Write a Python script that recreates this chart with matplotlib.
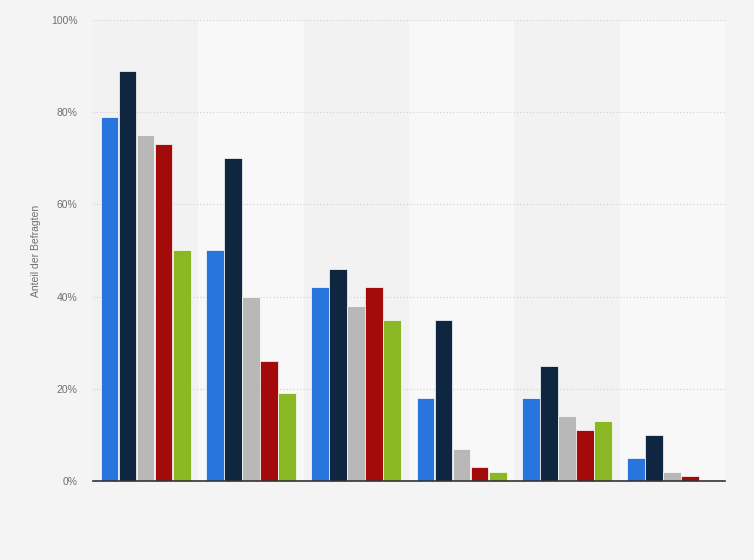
import matplotlib.pyplot as plt
import numpy as np

# Anteil der Befragten je Gruppe (6 Gruppen, 5 Reihen)
series_1 = [79, 50, 42, 18, 18, 5]
series_2 = [89, 70, 46, 35, 25, 10]
series_3 = [75, 40, 38, 7, 14, 2]
series_4 = [73, 26, 42, 3, 11, 1]
series_5 = [50, 19, 35, 2, 13, 0]
colors = ['#2876dd', '#0f2640', '#b8b8b8', '#a30a0a', '#8ab825']
y_ticks = [0, 20, 40, 60, 80, 100]

plt.rcParams['font.family'] = ['Liberation Sans', 'DejaVu Sans']

all_series = [series_1, series_2, series_3, series_4, series_5]
n_groups = len(series_1)
x = np.arange(n_groups)

fig = plt.figure(figsize=(7.54, 5.6), dpi=100, facecolor='#f4f4f4')
ax = fig.add_axes([0.1233, 0.1411, 0.8382, 0.8232])
ax.set_facecolor('#f2f2f2')

# abwechselnde Hintergrundstreifen
for i in range(n_groups):
    if i % 2 == 1:
        ax.axvspan(i - 0.5, i + 0.5, color='#f8f8f8', zorder=0, lw=0)

slot = 0.171
for k, vals in enumerate(all_series):
    offs = (k - 2) * slot
    ax.bar(x + offs, vals, width=slot - 0.003, color=colors[k],
           edgecolor='white', linewidth=0.5, zorder=3)

ax.set_xlim(-0.5, n_groups - 0.5)
ax.set_ylim(0, 100)
ax.set_yticks(y_ticks)
ax.set_yticklabels([f'{t}%' for t in y_ticks], fontsize=7.5, color='#707070')
ax.set_xticks([])
ax.yaxis.grid(True, linestyle=(0, (1, 2)), color='#cfcfcf', linewidth=0.8, zorder=1)
ax.tick_params(axis='y', length=0, pad=11)

for s in ['top', 'right', 'left']:
    ax.spines[s].set_visible(False)
ax.spines['bottom'].set_color('#333333')
ax.spines['bottom'].set_linewidth(1.2)
ax.spines['bottom'].set_zorder(4)

ax.set_ylabel('Anteil der Befragten', fontsize=7.5, color='#707070', labelpad=7)

plt.savefig('out.png', dpi=100, facecolor=fig.get_facecolor())
